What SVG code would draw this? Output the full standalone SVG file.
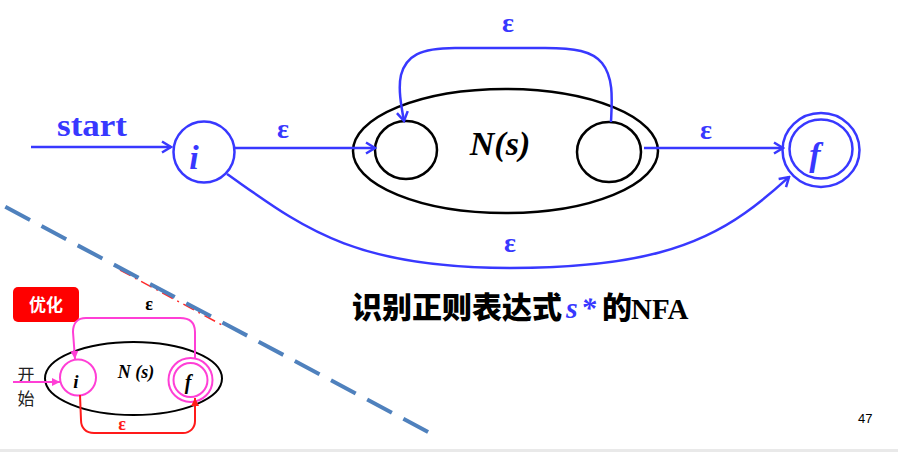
<svg xmlns="http://www.w3.org/2000/svg" width="898" height="452" viewBox="0 0 898 452">
<style>
.blue{stroke:#3838ff;stroke-width:2.5;fill:none}
.blk{stroke:#000;stroke-width:2.5;fill:none}
.mag{stroke:#ff3fd6;stroke-width:2;fill:none}
.red{stroke:#ff1a1a;stroke-width:2;fill:none}
.lbl{font-family:"Liberation Serif",serif;font-weight:bold;fill:#3838ff}
.it{font-family:"Liberation Serif",serif;font-weight:bold;font-style:italic}
.cjk{font-family:"Noto Sans CJK SC",sans-serif}
</style>
<defs>
<marker id="ab" markerUnits="userSpaceOnUse" markerWidth="14" markerHeight="14" refX="12" refY="7" orient="auto">
<path d="M3,1.5 L12,7 L3,12.5" fill="none" stroke="#3838ff" stroke-width="2.5"/>
</marker>
<marker id="am" markerUnits="userSpaceOnUse" markerWidth="10" markerHeight="10" refX="9" refY="5" orient="auto">
<path d="M1,1 L9,5 L1,9 Z" fill="#ff3fd6"/>
</marker>
<marker id="ar" markerUnits="userSpaceOnUse" markerWidth="10" markerHeight="10" refX="9" refY="5" orient="auto">
<path d="M1,1 L9,5 L1,9 Z" fill="#ff1a1a"/>
</marker>
</defs>
<rect width="898" height="452" fill="#fff"/>
<rect x="0" y="449" width="898" height="3" fill="#e9e9e9"/>

<!-- divider -->
<line x1="120" y1="270" x2="222" y2="325" stroke="#ff2a2a" stroke-width="1.5" stroke-dasharray="12,5,2,5"/>
<line x1="0" y1="204" x2="430" y2="433" stroke="#4f81bd" stroke-width="4" stroke-dasharray="28,13" stroke-dashoffset="-6"/>

<!-- main diagram nodes -->
<g id="ns">
<ellipse cx="505.5" cy="151" rx="152.5" ry="62" class="blk"/>
<text x="500" y="155" text-anchor="middle" class="it" font-size="34">N(s)</text>
</g>
<g id="n_in"><ellipse cx="406" cy="150" rx="31" ry="29" class="blk"/></g>
<g id="n_out"><ellipse cx="609" cy="152" rx="32" ry="30" class="blk"/></g>
<g id="i">
<circle cx="204" cy="152" r="30.5" class="blue"/>
<text x="194" y="169" text-anchor="middle" class="it" font-size="34" fill="#3838ff">i</text>
</g>
<g id="f">
<ellipse cx="821" cy="150" rx="38.5" ry="37" class="blue"/>
<ellipse cx="821" cy="149" rx="31.5" ry="29.5" class="blue"/>
<text x="815" y="166" text-anchor="middle" class="it" font-size="34" fill="#3838ff">f</text>
</g>

<!-- main connectors -->
<g id="edges">
<line x1="31" y1="147" x2="171" y2="147" class="blue" marker-end="url(#ab)"/>
<line x1="235" y1="148" x2="375" y2="148" class="blue" marker-end="url(#ab)"/>
<line x1="644" y1="148" x2="783" y2="148" class="blue" marker-end="url(#ab)"/>
<path d="M611,122 C612,100 614,78 602,63 C592,51 575,48 545,48 L455,48 C420,48 406,56 401,75 C398,88 401,105 404,121" class="blue" marker-end="url(#ab)"/>
<path d="M227,174 C300,225 350,268 510,268 C640,268 700,245 745,213 C765,199 778,187 789,177" class="blue" marker-end="url(#ab)"/>
</g>
<g id="labels">
<text x="92" y="136" text-anchor="middle" class="lbl" font-size="32" textLength="70" lengthAdjust="spacingAndGlyphs">start</text>
<text x="283" y="138" text-anchor="middle" class="lbl" font-size="28">ε</text>
<text x="508" y="32" text-anchor="middle" class="lbl" font-size="28">ε</text>
<text x="706" y="139" text-anchor="middle" class="lbl" font-size="28">ε</text>
<text x="510" y="252" text-anchor="middle" class="lbl" font-size="28">ε</text>
</g>

<!-- title -->
<g id="title">
<text x="352" y="318" class="cjk" font-size="30" font-weight="900" fill="#000">识别正则表达式</text>
<text x="566" y="318" class="it" font-size="30" fill="#3838ff">s</text>
<text x="581" y="318" class="it" font-size="30" fill="#3838ff">*</text>
<text x="602" y="318" class="cjk" font-size="30" font-weight="900" fill="#000">的</text>
<text x="631" y="319" font-family="Liberation Serif,serif" font-weight="bold" font-size="29" fill="#000">NFA</text>
</g>
<text x="858" y="423" font-family="Liberation Sans,Arial,sans-serif" font-size="13" fill="#000">47</text>

<!-- inset -->
<g id="opt">
<rect x="13" y="287" width="66" height="35" rx="5" fill="#ff0000"/>
<text x="46" y="311" text-anchor="middle" class="cjk" font-size="17" font-weight="bold" fill="#fff">优化</text>
</g>
<g id="s_ns">
<ellipse cx="133.5" cy="378.5" rx="88.5" ry="36.5" stroke="#000" stroke-width="2" fill="none"/>
<text x="136" y="378" text-anchor="middle" class="it" font-size="18" fill="#000">N (s)</text>
</g>
<g id="s_i">
<circle cx="78" cy="377.5" r="18" class="mag"/>
<text x="76" y="388" text-anchor="middle" class="it" font-size="19" fill="#000">i</text>
</g>
<g id="s_f">
<circle cx="190.5" cy="380" r="22" class="mag"/>
<circle cx="190.5" cy="380" r="17" class="mag"/>
<text x="188" y="389" text-anchor="middle" class="it" font-size="20" fill="#000">f</text>
</g>
<g id="s_start">
<text x="26" y="381" text-anchor="middle" class="cjk" font-size="17" fill="#222">开</text>
<text x="26" y="405" text-anchor="middle" class="cjk" font-size="17" fill="#222">始</text>
</g>
<g id="s_edges">
<line x1="13" y1="382" x2="60" y2="382" class="mag" marker-end="url(#am)"/>
<path d="M195,358 L195,332 C195,323 190,318 180,318 L86,318 C77,318 73,324 73,332 L75,359" class="mag" marker-end="url(#am)"/>
<path d="M80,395 L81,420 C81,428 86,433 94,433 L183,433 C190,433 195,428 195,421 L195,398" class="red" marker-end="url(#ar)"/>
<text x="149" y="310" text-anchor="middle" font-family="Liberation Serif,serif" font-weight="bold" font-size="18" fill="#000">ε</text>
<text x="122" y="430" text-anchor="middle" font-family="Liberation Serif,serif" font-weight="bold" font-size="18" fill="#ff1a1a">ε</text>
</g>
</svg>
